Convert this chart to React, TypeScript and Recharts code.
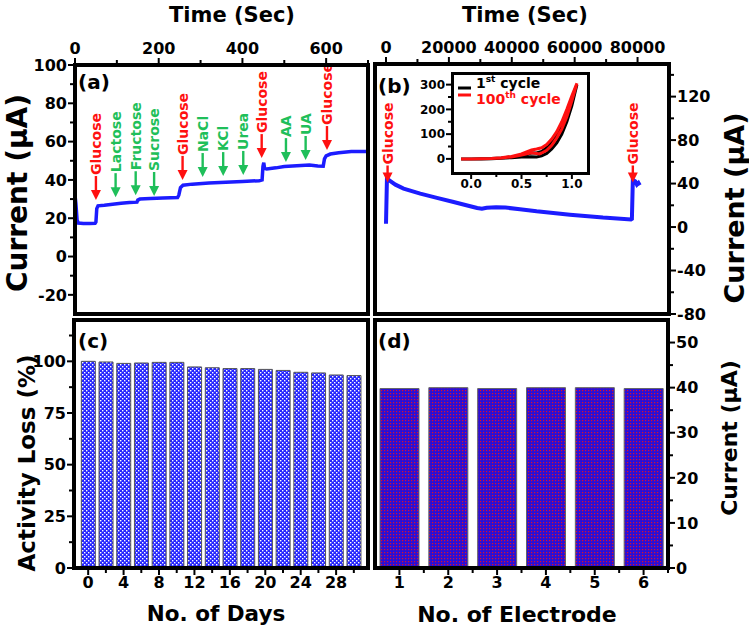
import React from "react";
import { BarChart, Bar, LineChart, Line, XAxis, YAxis, ReferenceDot } from "recharts";

const FONT = "'DejaVu Sans', 'Liberation Sans', sans-serif";
const BLUE = "#1c1cff";
const RED = "#ff1010";
const GREEN = "#1fbf5a";

// (a) selectivity: time (s) vs current (µA)
const selTime = [0, 2, 5, 8, 20, 35, 48, 50, 52, 55, 70, 90, 110, 130, 148, 150, 155, 180, 210, 245, 248, 252, 258, 280, 320, 360, 400, 440, 447, 449, 451, 453, 458, 480, 500, 530, 560, 580, 593, 596, 600, 610, 630, 660, 700];
const selCurrent = [32, 28, 19, 17.5, 17.3, 17.2, 17.3, 18, 25, 26.5, 26.8, 27.3, 27.8, 28.2, 28.4, 29.5, 30, 30.3, 30.6, 30.8, 32, 36, 37.2, 37.8, 38.4, 38.8, 39.2, 39.6, 40, 47, 49, 46, 45.7, 46.3, 47, 47.4, 47.8, 47.3, 47.2, 51, 52.5, 53.5, 54.2, 54.8, 54.8];
const injLabels = ["Glucose", "Lactose", "Fructose", "Sucrose", "Glucose", "NaCl", "KCl", "Urea", "Glucose", "AA", "UA", "Glucose"];
const injTime = [50, 97, 145, 189, 257, 305, 354, 402, 446, 504, 551, 602];
const injTip = [29.5, 31, 32, 31.6, 40, 41.5, 42, 42.6, 51.4, 49.3, 50.4, 55.6];

// (b) long-term stability: time (s) vs current (µA)
const stabTime = [0, 300, 1500, 3000, 5600, 10900, 16200, 21500, 26800, 29000, 30500, 32000, 35000, 38000, 42600, 47900, 58500, 69000, 77900, 78200, 78500, 79300, 79800, 80300, 80700];
const stabCurrent = [3, 44.5, 42, 39, 35.4, 30.8, 26.8, 23, 19.1, 17.5, 16.8, 17.8, 18.2, 17.9, 16.4, 14.5, 11.4, 8.7, 7, 7.5, 43.5, 42, 39, 40.5, 38.5];
const stabInjTime = [500, 78500];
const stabInjTip = [41, 41];

// (b) inset: CV, potential (V) vs current (µA)
const cycle1V = [-0.1, 0, 0.1, 0.2, 0.3, 0.4, 0.5, 0.55, 0.6, 0.65, 0.7, 0.75, 0.8, 0.85, 0.9, 0.95, 1.0, 1.05, 1.0, 0.95, 0.9, 0.85, 0.8, 0.75, 0.7, 0.65, 0.6, 0.5, 0.4, 0.3, 0.2, 0.1, 0, -0.1];
const cycle1I = [0, 0, 1, 2, 4, 8, 15, 20, 24, 24, 30, 45, 68, 100, 140, 190, 245, 300, 215, 150, 100, 65, 40, 22, 12, 8, 9, 8, 5, 3, 1, 0, 0, 0];
const cycle100V = [-0.1, 0, 0.1, 0.2, 0.3, 0.4, 0.5, 0.55, 0.6, 0.65, 0.7, 0.75, 0.8, 0.85, 0.9, 0.95, 1.0, 1.05, 1.0, 0.95, 0.9, 0.85, 0.8, 0.75, 0.7, 0.68, 0.65, 0.6, 0.5, 0.4, 0.3, 0.2, 0.1, 0, -0.1];
const cycle100I = [0, 0, 1, 2, 5, 10, 20, 28, 36, 40, 45, 58, 80, 110, 150, 200, 255, 305, 235, 170, 120, 85, 55, 35, 24, 20, 22, 25, 16, 8, 4, 2, 1, 0, 0];

// (c) activity over days
const days = [0, 2, 4, 6, 8, 10, 12, 14, 16, 18, 20, 22, 24, 26, 28, 30];
const activity = [100, 99.7, 99.0, 99.2, 99.5, 99.5, 97.3, 96.9, 96.5, 96.5, 96.1, 95.6, 94.7, 94.4, 93.4, 93.1];

// (d) reproducibility
const electrodes = [1, 2, 3, 4, 5, 6];
const electrodeCurrent = [39.8, 40.0, 39.8, 40.0, 40.0, 39.8];

const selData = selTime.map((t, i) => ({ t, v: selCurrent[i] }));
const stabData = stabTime.map((t, i) => ({ t, v: stabCurrent[i] }));
const cycle1 = cycle1V.map((v, i) => ({ v, i: cycle1I[i] }));
const cycle100 = cycle100V.map((v, i) => ({ v, i: cycle100I[i] }));
const dayData = days.map((d, i) => ({ d, a: activity[i] }));
const elecData = electrodes.map((n, i) => ({ n, c: electrodeCurrent[i] }));

const range = (a: number, b: number, s: number) => {
  const out: number[] = [];
  for (let v = a; v <= b + 1e-9; v += s) out.push(Math.round(v * 1000) / 1000);
  return out;
};

type Side = "top" | "bottom" | "left" | "right";

function axisTick(side: Side, majors: number[], fs = 16, fmt = (v: number) => String(v), majorLen = 7, minorLen = 5, gap = 1) {
  return (props: any) => {
    const { x, y, payload } = props;
    const v = payload.value;
    const isMajor = majors.some((m) => Math.abs(m - v) < 1e-6);
    const len = isMajor ? majorLen : minorLen;
    let x2 = x, y2 = y, tx = x, ty = y;
    let anchor: "start" | "middle" | "end" = "middle";
    if (side === "top") { y2 = y - len; ty = y - majorLen - gap - 3; }
    if (side === "bottom") { y2 = y + len; ty = y + majorLen + gap + fs * 0.78; }
    if (side === "left") { x2 = x - len; tx = x - majorLen - gap; ty = y + fs * 0.36; anchor = "end"; }
    if (side === "right") { x2 = x + len; tx = x + majorLen + gap; ty = y + fs * 0.36; anchor = "start"; }
    return (
      <g>
        <line x1={x} y1={y} x2={x2} y2={y2} stroke="#000" strokeWidth={2} />
        {isMajor && (
          <text x={tx} y={ty} textAnchor={anchor} fontSize={fs} fontWeight={700} fontFamily={FONT} fill="#000">
            {fmt(v)}
          </text>
        )}
      </g>
    );
  };
}

function arrowShape(label: string, color: string, fs = 14, len = 24) {
  return (p: any) => {
    const { cx, cy } = p;
    return (
      <g>
        <line x1={cx} y1={cy - len} x2={cx} y2={cy - 8} stroke={color} strokeWidth={2.4} />
        <polygon points={`${cx - 5},${cy - 10} ${cx + 5},${cy - 10} ${cx},${cy}`} fill={color} />
        <text
          transform={`translate(${cx + fs * 0.36},${cy - len - 1}) rotate(-90)`}
          fontSize={fs}
          fontWeight={700}
          fontFamily={FONT}
          fill={color}
        >
          {label}
        </text>
      </g>
    );
  };
}

const abs: React.CSSProperties = { position: "absolute", left: 0, top: 0 };

function Frame({ l, t, r, b, w = 4 }: { l: number; t: number; r: number; b: number; w?: number }) {
  return (
    <div
      style={{
        position: "absolute",
        left: l - w / 2,
        top: t - w / 2,
        width: r - l + w,
        height: b - t + w,
        border: `${w}px solid #000`,
        boxSizing: "border-box",
        pointerEvents: "none",
      }}
    />
  );
}

const W = 749;
const H = 635;

const txt = { fontFamily: FONT, fontWeight: 700 } as const;

export default function App() {
  return (
    <div style={{ position: "relative", width: W, height: H, background: "#fff", overflow: "hidden" }}>
      <style>{`body{margin:0}`}</style>

      {/* (a) */}
      <div style={abs}>
        <LineChart width={W} height={H} data={selData} margin={{ top: 35, right: W - 368, bottom: H - 314, left: 25 }}>
          <XAxis type="number" dataKey="t" orientation="top" domain={[0, 700]} ticks={range(0, 700, 100)} interval={0}
            height={30} axisLine={false} tickLine={false} tickSize={0} tickMargin={0} allowDataOverflow
            tick={axisTick("top", [0, 200, 400, 600])} />
          <YAxis type="number" domain={[-30, 100]} ticks={range(-20, 100, 10)} interval={0} width={50}
            axisLine={false} tickLine={false} tickSize={0} tickMargin={0} allowDataOverflow
            tick={axisTick("left", range(-20, 100, 20))} />
          <Line type="linear" dataKey="v" stroke={BLUE} strokeWidth={3.5} dot={false} isAnimationActive={false} />
          {injLabels.map((lab, i) => (
            <ReferenceDot key={i} x={injTime[i]} y={injTip[i]} r={0}
              shape={arrowShape(lab, lab === "Glucose" ? RED : GREEN)} />
          ))}
        </LineChart>
      </div>

      {/* (b) */}
      <div style={abs}>
        <LineChart width={W} height={H} data={stabData} margin={{ top: 34, right: W - 669 - 50, bottom: H - 314, left: 375 }}>
          <XAxis type="number" dataKey="t" orientation="top" domain={[-3500, 90000]} ticks={range(0, 80000, 10000)} interval={0}
            height={30} axisLine={false} tickLine={false} tickSize={0} tickMargin={0} allowDataOverflow
            tick={axisTick("top", range(0, 80000, 20000))} />
          <YAxis type="number" orientation="right" domain={[-80, 150]} ticks={range(-80, 140, 20)} interval={0} width={50}
            axisLine={false} tickLine={false} tickSize={0} tickMargin={0} allowDataOverflow
            tick={axisTick("right", range(-80, 120, 40))} />
          <Line type="linear" dataKey="v" stroke={BLUE} strokeWidth={4} dot={false} isAnimationActive={false} />
          {stabInjTime.map((t, i) => (
            <ReferenceDot key={i} x={t} y={stabInjTip[i]} r={0} shape={arrowShape("Glucose", RED, 14, 17)} />
          ))}
        </LineChart>
      </div>

      {/* (c) */}
      <div style={abs}>
        <BarChart width={W} height={H} data={dayData} margin={{ top: 320, right: W - 368, bottom: H - 568 - 30, left: 24 }}>
          <defs>
            <pattern id="dotsC" width="4" height="4" patternUnits="userSpaceOnUse">
              <rect width="4" height="4" fill="#2626ff" />
              <rect x="0" y="0" width="1.4" height="1.4" fill="#fff" />
              <rect x="2" y="2" width="1.4" height="1.4" fill="#fff" />
            </pattern>
            <pattern id="checkD" width="3" height="3" patternUnits="userSpaceOnUse">
              <rect width="3" height="3" fill="#2a0fd6" />
              <rect x="0" y="0" width="1.2" height="1.2" fill="#e0102a" />
            </pattern>
          </defs>
          <XAxis type="number" dataKey="d" domain={[-1.6, 31.6]} ticks={range(0, 30, 2)} interval={0}
            height={30} axisLine={false} tickLine={false} tickSize={0} tickMargin={0} allowDataOverflow
            tick={axisTick("bottom", range(0, 28, 4))} />
          <YAxis type="number" domain={[0, 120]} ticks={range(0, 112.5, 12.5)} interval={0} width={50}
            axisLine={false} tickLine={false} tickSize={0} tickMargin={0} allowDataOverflow
            tick={axisTick("left", range(0, 100, 25))} />
          <Bar dataKey="a" barSize={14} fill="url(#dotsC)" stroke="#555" strokeWidth={1} isAnimationActive={false} />
        </BarChart>
      </div>

      {/* (d) */}
      <div style={abs}>
        <BarChart width={W} height={H} data={elecData} margin={{ top: 320, right: W - 668 - 50, bottom: H - 568 - 30, left: 375 }}>
          <XAxis type="number" dataKey="n" domain={[0.5, 6.5]} ticks={range(1, 6.5, 0.5)} interval={0}
            height={30} axisLine={false} tickLine={false} tickSize={0} tickMargin={0} allowDataOverflow
            tick={axisTick("bottom", electrodes)} />
          <YAxis type="number" orientation="right" domain={[0, 55]} ticks={range(0, 50, 5)} interval={0} width={50}
            axisLine={false} tickLine={false} tickSize={0} tickMargin={0} allowDataOverflow
            tick={axisTick("right", range(0, 50, 10))} />
          <Bar dataKey="c" barSize={39} fill="url(#checkD)" stroke="#666" strokeWidth={1} isAnimationActive={false} />
        </BarChart>
      </div>

      {/* inset of (b) */}
      <div style={{ position: "absolute", left: 452, top: 73, width: 136, height: 100, background: "#fff" }} />
      <div style={abs}>
        <LineChart width={W} height={H} margin={{ top: 73, right: W - 588, bottom: H - 173 - 25, left: 452 - 40 }}>
          <XAxis type="number" dataKey="v" domain={[-0.19, 1.16]} ticks={[0, 0.25, 0.5, 0.75, 1.0]} interval={0}
            height={25} axisLine={false} tickLine={false} tickSize={0} tickMargin={0} allowDataOverflow
            tick={axisTick("bottom", [0, 0.5, 1.0], 12, (v) => v.toFixed(1), 6, 4, 0)} />
          <YAxis type="number" domain={[-57, 347]} ticks={range(0, 300, 50)} interval={0} width={40}
            axisLine={false} tickLine={false} tickSize={0} tickMargin={0} allowDataOverflow
            tick={axisTick("left", range(0, 300, 100), 12, String, 6, 4, 1)} />
          <Line data={cycle1} type="linear" dataKey="i" stroke="#000" strokeWidth={3} dot={false} isAnimationActive={false} />
          <Line data={cycle100} type="linear" dataKey="i" stroke={RED} strokeWidth={3} dot={false} isAnimationActive={false} />
        </LineChart>
      </div>

      <Frame l={75} t={65} r={368} b={314} />
      <Frame l={375} t={64} r={669} b={314} />
      <Frame l={74} t={320} r={368} b={568} />
      <Frame l={375} t={320} r={668} b={568} />
      <Frame l={452} t={73} r={588} b={173} w={3} />

      <svg width={W} height={H} style={{ position: "absolute", left: 0, top: 0, pointerEvents: "none" }}>
        <text x={232} y={22} textAnchor="middle" fontSize={21} {...txt}>Time (Sec)</text>
        <text x={525} y={22} textAnchor="middle" fontSize={21} {...txt}>Time (Sec)</text>
        <text transform="translate(27,193) rotate(-90)" textAnchor="middle" fontSize={28} {...txt}>Current (μA)</text>
        <text transform="translate(744,208) rotate(-90)" textAnchor="middle" fontSize={27} {...txt}>Current (μA)</text>
        <text transform="translate(35,463) rotate(-90)" textAnchor="middle" fontSize={23} {...txt}>Activity Loss (%)</text>
        <text transform="translate(737,438) rotate(-90)" textAnchor="middle" fontSize={22} {...txt}>Current (μA)</text>
        <text x={216} y={621} textAnchor="middle" fontSize={21.5} {...txt}>No. of Days</text>
        <text x={517} y={622} textAnchor="middle" fontSize={22} {...txt}>No. of Electrode</text>

        <text x={78} y={89} fontSize={20} {...txt}>(a)</text>
        <text x={378} y={93} fontSize={20} {...txt}>(b)</text>
        <text x={78} y={348} fontSize={20} {...txt}>(c)</text>
        <text x={378} y={348} fontSize={20} {...txt}>(d)</text>

        <line x1={458} y1={88} x2={471} y2={88} stroke="#000" strokeWidth={3} />
        <line x1={458} y1={95} x2={471} y2={95} stroke={RED} strokeWidth={3} />
        <text x={476} y={88} fontSize={14} {...txt} fill="#000">
          1<tspan fontSize={9} dy={-6}>st</tspan><tspan fontSize={14} dy={6}> cycle</tspan>
        </text>
        <text x={476} y={104} fontSize={14} {...txt} fill={RED}>
          100<tspan fontSize={9} dy={-6}>th</tspan><tspan fontSize={14} dy={6}>  cycle</tspan>
        </text>
      </svg>
    </div>
  );
}
